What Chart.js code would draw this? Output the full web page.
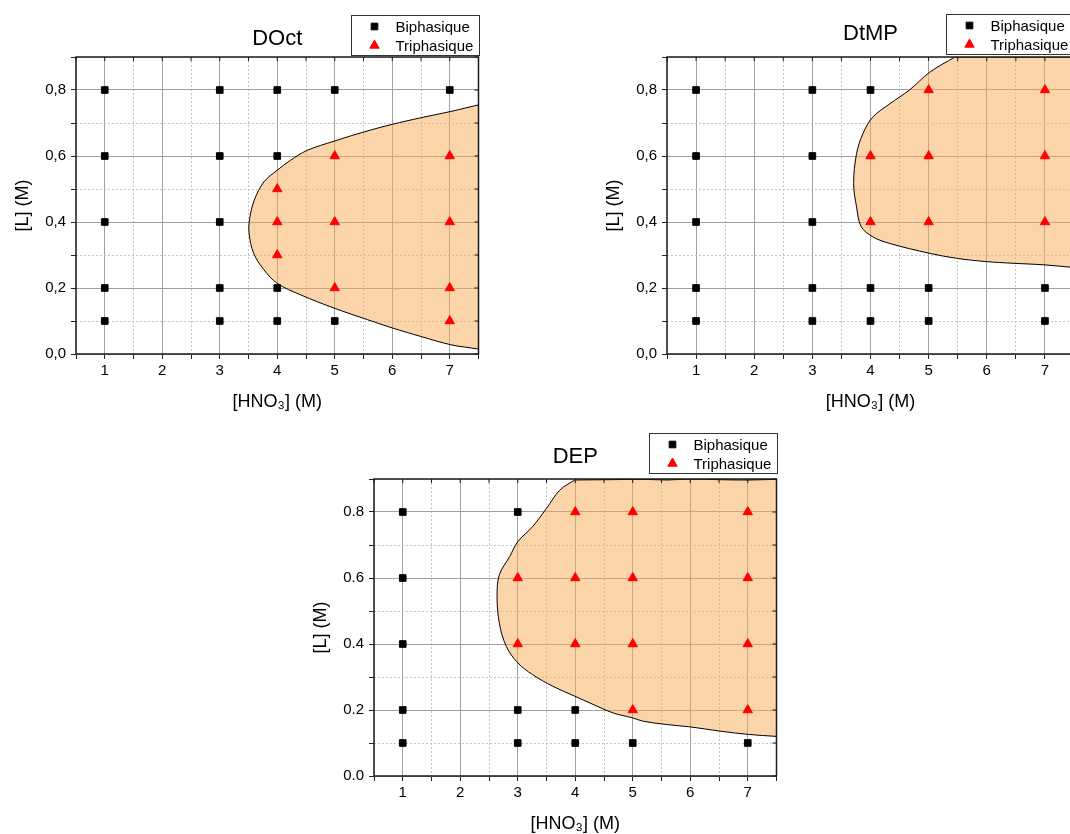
<!DOCTYPE html>
<html>
<head>
<meta charset="utf-8">
<script src="https://cdn.jsdelivr.net/npm/chart.js@4.4.1/dist/chart.umd.min.js"></script>
<style>
  html, body { margin: 0; padding: 0; background: #fff; overflow: hidden; }
  #page { position: relative; width: 1070px; height: 834px; overflow: hidden; }
  #page canvas { position: absolute; }
</style>
</head>
<body>
<div id="page">
  <canvas id="doct" width="500" height="415" style="left:0;top:0"></canvas>
  <canvas id="dtmp" width="505" height="415" style="left:591px;top:0"></canvas>
  <canvas id="dep" width="500" height="415" style="left:298px;top:422px"></canvas>
</div>
<script>
// axis ticks
const xTicks = [0.5, 1, 1.5, 2, 2.5, 3, 3.5, 4, 4.5, 5, 5.5, 6, 6.5, 7, 7.5];
const xLabels = [1, 2, 3, 4, 5, 6, 7];
const yTicks = [0, 0.1, 0.2, 0.3, 0.4, 0.5, 0.6, 0.7, 0.8, 0.9];
const yLabels = [0, 0.2, 0.4, 0.6, 0.8];

// DOct
const doctBiX = [1, 1, 1, 1, 1, 3, 3, 3, 3, 3, 4, 4, 4, 4, 5, 5, 7];
const doctBiY = [0.1, 0.2, 0.4, 0.6, 0.8, 0.1, 0.2, 0.4, 0.6, 0.8, 0.1, 0.2, 0.6, 0.8, 0.1, 0.8, 0.8];
const doctTriX = [4, 4, 4, 5, 5, 5, 7, 7, 7, 7];
const doctTriY = [0.3, 0.4, 0.5, 0.2, 0.4, 0.6, 0.1, 0.2, 0.4, 0.6];
// boundary of the three-phase zone (corners repeated so the curve keeps them sharp)
const doctZoneX = [7.5, 7.02, 6.5, 6.0, 5.51, 4.99, 4.52, 4.23, 4.0, 3.77, 3.6, 3.52, 3.51, 3.59, 3.77, 4.0, 4.41, 4.99, 5.57, 6.0, 6.5, 7.02, 7.5, 7.5, 7.5];
const doctZoneY = [0.755, 0.735, 0.716, 0.696, 0.673, 0.645, 0.617, 0.587, 0.557, 0.522, 0.466, 0.41, 0.366, 0.305, 0.255, 0.214, 0.179, 0.139, 0.104, 0.079, 0.053, 0.028, 0.015, 0.015, 0.755];

// DtMP
const dtmpBiX = [1, 1, 1, 1, 1, 3, 3, 3, 3, 3, 4, 4, 4, 5, 5, 7, 7];
const dtmpBiY = [0.1, 0.2, 0.4, 0.6, 0.8, 0.1, 0.2, 0.4, 0.6, 0.8, 0.1, 0.2, 0.8, 0.1, 0.2, 0.1, 0.2];
const dtmpTriX = [4, 4, 5, 5, 5, 7, 7, 7];
const dtmpTriY = [0.4, 0.6, 0.4, 0.6, 0.8, 0.4, 0.6, 0.8];
const dtmpZoneX = [7.5, 6.5, 5.45, 5.45, 5.02, 4.67, 4.33, 4.04, 3.87, 3.76, 3.71, 3.76, 3.84, 4.04, 4.33, 5.02, 5.48, 5.99, 6.45, 7.0, 7.5, 7.5, 7.5];
const dtmpZoneY = [0.9, 0.9, 0.9, 0.9, 0.854, 0.8, 0.758, 0.718, 0.668, 0.607, 0.517, 0.446, 0.386, 0.355, 0.335, 0.305, 0.29, 0.28, 0.275, 0.27, 0.262, 0.262, 0.9];

// DEP
const depBiX = [1, 1, 1, 1, 1, 3, 3, 3, 4, 4, 5, 7];
const depBiY = [0.1, 0.2, 0.4, 0.6, 0.8, 0.1, 0.2, 0.8, 0.1, 0.2, 0.1, 0.1];
const depTriX = [3, 3, 4, 4, 4, 5, 5, 5, 5, 7, 7, 7, 7];
const depTriY = [0.4, 0.6, 0.4, 0.6, 0.8, 0.2, 0.4, 0.6, 0.8, 0.2, 0.4, 0.6, 0.8];
const depZoneX = [7.5, 7.0, 6.5, 6.0, 5.6, 5.2, 4.6, 3.99, 3.99, 3.73, 3.5, 3.26, 3.0, 2.86, 2.68, 2.64, 2.68, 2.8, 3.0, 3.26, 3.61, 3.99, 4.31, 4.66, 5.0, 5.18, 5.59, 5.99, 6.52, 7.01, 7.5, 7.5, 7.5];
const depZoneY = [0.899, 0.897, 0.898, 0.9, 0.897, 0.899, 0.898, 0.897, 0.897, 0.866, 0.811, 0.756, 0.71, 0.665, 0.61, 0.544, 0.463, 0.393, 0.343, 0.307, 0.272, 0.242, 0.217, 0.191, 0.176, 0.166, 0.156, 0.149, 0.136, 0.126, 0.12, 0.12, 0.899];

Chart.defaults.font.family = "'Liberation Sans', Arial, sans-serif";
Chart.defaults.color = '#000';

function pairs(xs, ys) {
  return xs.map((x, i) => ({ x: x, y: ys[i] }));
}

const isMajorX = v => xLabels.includes(v);
const isMajorY = v => yLabels.some(l => Math.abs(l - v) < 1e-9);

// black frame around the plot with small inward ticks on top and right
const framePlugin = {
  id: 'frame',
  afterDatasetsDraw(chart) {
    const { ctx, chartArea: a, scales } = chart;
    ctx.save();
    ctx.strokeStyle = '#1a1a1a';
    ctx.lineWidth = 1;
    ctx.beginPath();
    scales.x.ticks.forEach(t => {
      const px = scales.x.getPixelForValue(t.value);
      ctx.moveTo(px, a.top); ctx.lineTo(px, a.top + 4);
    });
    scales.y.ticks.forEach(t => {
      const py = scales.y.getPixelForValue(t.value);
      ctx.moveTo(a.right, py); ctx.lineTo(a.right - 4, py);
    });
    ctx.stroke();
    ctx.lineWidth = 1.5;
    ctx.strokeRect(a.left, a.top, a.right - a.left, a.bottom - a.top);
    ctx.restore();
  }
};

// boxed legend sitting beside the title
const legendBoxPlugin = {
  id: 'legendBox',
  afterDraw(chart, args, o) {
    const { ctx, chartArea: a } = chart;
    const left = Math.round(a.right - o.width) + 0.5;
    const top = o.top + 0.5;
    ctx.save();
    ctx.fillStyle = '#fff';
    ctx.fillRect(left, top, o.width, o.height);
    ctx.strokeStyle = '#333';
    ctx.lineWidth = 1;
    ctx.strokeRect(left, top, o.width, o.height);
    const items = chart.data.datasets.filter(d => d.inLegend);
    items.forEach((d, i) => {
      const cy = top + o.rows[i];
      ctx.fillStyle = d.backgroundColor;
      ctx.strokeStyle = d.borderColor;
      ctx.lineWidth = d.borderWidth;
      Chart.helpers.drawPoint(ctx, {
        pointStyle: d.pointStyle, radius: d.pointRadius, borderWidth: d.borderWidth, rotation: 0
      }, left + 23, cy);
      ctx.fillStyle = '#000';
      ctx.font = "15px 'Liberation Sans', Arial, sans-serif";
      ctx.textBaseline = 'middle';
      ctx.textAlign = 'left';
      ctx.fillText(d.label, left + 44, cy + 1);
    });
    ctx.restore();
  }
};

function makeChart(id, cfg) {
  const canvas = document.getElementById(id);
  const plotW = cfg.plotW;
  const fmt = v => {
    const s = v.toFixed(1);
    return cfg.comma ? s.replace('.', ',') : s;
  };
  return new Chart(canvas, {
    type: 'scatter',
    data: {
      datasets: [
        {
          label: 'Biphasique',
          data: pairs(cfg.biX, cfg.biY),
          pointStyle: 'rect',
          pointRadius: 4.7,
          pointHoverRadius: 4.7,
          backgroundColor: '#000',
          borderColor: '#000',
          borderWidth: 1,
          inLegend: true,
          order: 0
        },
        {
          label: 'Triphasique',
          data: pairs(cfg.triX, cfg.triY),
          pointStyle: 'triangle',
          pointRadius: 5.4,
          pointHoverRadius: 5.4,
          backgroundColor: '#ff0000',
          borderColor: '#ff0000',
          borderWidth: 1,
          inLegend: true,
          order: 1
        },
        {
          type: 'line',
          label: 'zone',
          data: pairs(cfg.zoneX, cfg.zoneY),
          borderColor: '#000',
          borderWidth: 1,
          backgroundColor: 'rgba(250, 170, 85, 0.5)',
          fill: 'shape',
          tension: 0.35,
          pointRadius: 0,
          pointHitRadius: 0,
          order: 2
        }
      ]
    },
    options: {
      responsive: false,
      animation: false,
      devicePixelRatio: 1,
      layout: {
        padding: { left: 0, top: 0, bottom: 0, right: canvas.width - 76 - plotW }
      },
      scales: {
        x: {
          type: 'linear',
          min: 0.5,
          max: 7.5,
          afterBuildTicks: s => { s.ticks = xTicks.map(v => ({ value: v })); },
          afterFit: s => { s.height = 61; },
          ticks: {
            autoSkip: false,
            maxRotation: 0,
            padding: 3,
            color: '#000',
            font: { size: 15 },
            callback: v => isMajorX(v) ? String(v) : ''
          },
          grid: {
            color: c => (c.tick && isMajorX(c.tick.value)) ? '#a0a0a0' : '#c4c4c4',
            lineWidth: 1,
            tickLength: 5,
            tickColor: '#222'
          },
          border: {
            display: false,
            dash: c => (c.tick && !isMajorX(c.tick.value)) ? [2, 2] : []
          },
          title: {
            display: true,
            text: '[HNO₃] (M)',
            color: '#000',
            font: { size: 18 },
            padding: { top: 0, bottom: 2 }
          }
        },
        y: {
          type: 'linear',
          min: 0,
          max: 0.9,
          afterBuildTicks: s => { s.ticks = yTicks.map(v => ({ value: v })); },
          afterFit: s => { s.width = 76; },
          ticks: {
            autoSkip: false,
            padding: 5,
            color: '#000',
            font: { size: 15 },
            callback: v => isMajorY(v) ? fmt(v) : ''
          },
          grid: {
            color: c => (c.tick && isMajorY(c.tick.value)) ? '#a0a0a0' : '#c4c4c4',
            lineWidth: 1,
            tickLength: 5,
            tickColor: '#222'
          },
          border: {
            display: false,
            dash: c => (c.tick && !isMajorY(c.tick.value)) ? [2, 2] : []
          },
          title: {
            display: true,
            text: '[L] (M)',
            color: '#000',
            font: { size: 18 },
            padding: { top: 12, bottom: 0 }
          }
        }
      },
      plugins: {
        legend: { display: false },
        tooltip: { enabled: false },
        title: {
          display: true,
          text: cfg.title,
          fullSize: false,
          color: '#000',
          font: { size: 22, weight: 'normal' },
          padding: { top: cfg.titleTop, bottom: 57 - cfg.titleTop - 26.4 }
        },
        legendBox: { width: 128, height: 40, top: cfg.legendTop, rows: [11, 30] }
      }
    },
    plugins: [framePlugin, legendBoxPlugin]
  });
}

makeChart('doct', {
  title: 'DOct', comma: true, plotW: 402.5, titleTop: 25.5, legendTop: 15,
  biX: doctBiX, biY: doctBiY, triX: doctTriX, triY: doctTriY, zoneX: doctZoneX, zoneY: doctZoneY
});
makeChart('dtmp', {
  title: 'DtMP', comma: true, plotW: 407, titleTop: 20.6, legendTop: 14,
  biX: dtmpBiX, biY: dtmpBiY, triX: dtmpTriX, triY: dtmpTriY, zoneX: dtmpZoneX, zoneY: dtmpZoneY
});
makeChart('dep', {
  title: 'DEP', comma: false, plotW: 402.5, titleTop: 22, legendTop: 11,
  biX: depBiX, biY: depBiY, triX: depTriX, triY: depTriY, zoneX: depZoneX, zoneY: depZoneY
});
</script>
</body>
</html>
